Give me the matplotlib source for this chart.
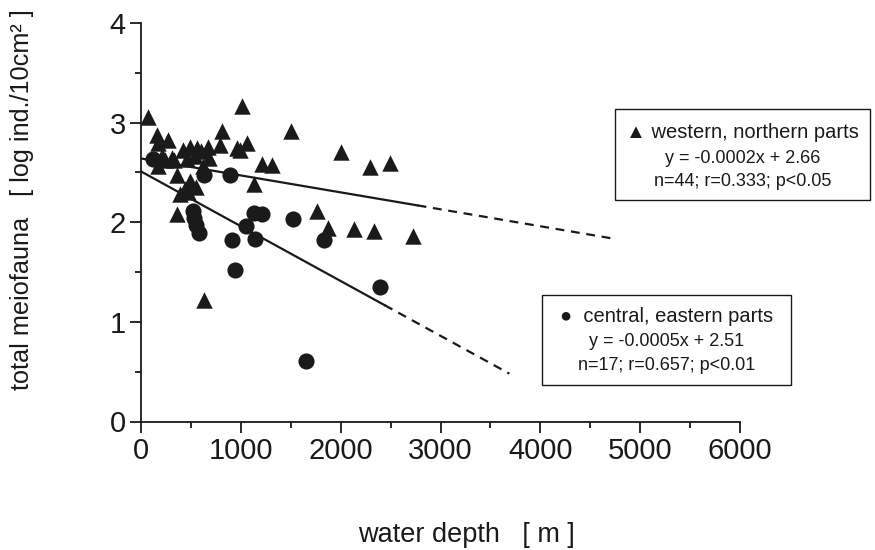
import numpy as np
import matplotlib
matplotlib.use("Agg")
import matplotlib.pyplot as plt
from matplotlib.patches import Rectangle

plt.rcParams["font.family"] = ["Liberation Sans", "DejaVu Sans"]

# western, northern parts (triangles)
west_depth = [73, 1007, 807, 1500, 157, 273, 173, 423, 490, 557, 673, 790, 957,
              1063, 990, 307, 240, 173, 457, 680, 623, 1217, 1317, 357, 490, 550,
              1130, 390, 357, 1763, 630, 2000, 2297, 2497, 1873, 2130, 2330, 2723,
              210, 540, 440, 470, 600, 330]
west_meio = [3.06, 3.17, 2.92, 2.92, 2.88, 2.83, 2.80, 2.73, 2.76, 2.75, 2.76, 2.78,
             2.75, 2.80, 2.73, 2.64, 2.62, 2.56, 2.63, 2.64, 2.56, 2.58, 2.57, 2.47,
             2.41, 2.35, 2.38, 2.28, 2.08, 2.11, 1.22, 2.71, 2.55, 2.59, 1.94, 1.93,
             1.91, 1.86, 2.66, 2.66, 2.33, 2.30, 2.72, 2.62]

# central, eastern parts (circles)
cent_depth = [123, 630, 890, 523, 535, 550, 583, 1130, 1217, 1050, 1523, 913,
              1140, 1830, 940, 1657, 2390]
cent_meio = [2.63, 2.47, 2.47, 2.11, 2.04, 1.97, 1.89, 2.09, 2.08, 1.96, 2.03,
             1.82, 1.83, 1.82, 1.52, 0.61, 1.35]

# regression lines as drawn: (intercept, slope, end of solid part, end of dashed part)
west_fit = (2.64, -0.00017, 2770, 4720)
cent_fit = (2.51, -0.00055, 2440, 3690)

fig = plt.figure(figsize=(8.75, 5.5), dpi=100)
ax = fig.add_axes([141 / 875, 1 - 421.5 / 550, 599 / 875, 398.5 / 550])

ax.scatter(west_depth, west_meio, marker="^", s=140, color="#1a1a1a", linewidths=0, zorder=3)
ax.scatter(cent_depth, cent_meio, marker="o", s=135, color="#1a1a1a", linewidths=0, zorder=3)

for b0, b1, x_solid, x_dash in [west_fit, cent_fit]:
    xs = np.array([0, x_solid])
    ax.plot(xs, b0 + b1 * xs, color="#1a1a1a", lw=1.6, zorder=2)
    xd = np.array([x_solid, x_dash])
    ax.plot(xd, b0 + b1 * xd, color="#1a1a1a", lw=1.6, ls=(0, (4, 3)), zorder=2)

ax.set_xlim(0, 6000)
ax.set_ylim(0, 4)
ax.set_xticks(np.arange(0, 6001, 1000))
ax.set_xticks(np.arange(500, 6000, 1000), minor=True)
ax.set_yticks(np.arange(0, 5, 1))
ax.set_yticks(np.arange(0.5, 4, 1), minor=True)
ax.spines["top"].set_visible(False)
ax.spines["right"].set_visible(False)
for s in ["left", "bottom"]:
    ax.spines[s].set_linewidth(1.3)
    ax.spines[s].set_color("#1a1a1a")
ax.tick_params(which="major", length=8, width=1.3, labelsize=21, colors="#1a1a1a")
ax.tick_params(which="minor", length=4, width=1.3, colors="#1a1a1a")
ax.tick_params(axis="y", pad=3)
ax.tick_params(axis="x", pad=3)

# axis titles
fig.text(466 / 875, 1 - 535 / 550, "water depth   [ m ]", ha="center", va="center",
         fontsize=19.5, color="#1a1a1a")
fig.text(22 / 875, 1 - 200 / 550, "total meiofauna   [ log ind./10cm² ]", ha="center",
         va="center", rotation=90, fontsize=18.2, color="#1a1a1a")

# annotation boxes (pixel positions from the top-left of the figure)
def box(x0, y0, x1, y1, lines):
    fig.patches.append(Rectangle((x0 / 875, 1 - y1 / 550), (x1 - x0) / 875, (y1 - y0) / 550,
                                 transform=fig.transFigure, fill=False, lw=1.0,
                                 edgecolor="#1a1a1a"))
    xc = (x0 + x1) / 2
    for (txt, yy, fs) in lines:
        fig.text(xc / 875, 1 - yy / 550, txt, ha="center", va="center", fontsize=fs,
                 color="#1a1a1a")

box(615, 109, 870, 200, [("\u25B2 western, northern parts", 133, 14.5),
                         ("y = -0.0002x + 2.66", 158, 13),
                         ("n=44; r=0.333; p<0.05", 182, 13)])
box(542, 295, 791, 385, [("\u25CF  central, eastern parts", 316, 14.5),
                         ("y = -0.0005x + 2.51", 342, 13),
                         ("n=17; r=0.657; p<0.01", 365, 13)])

fig.savefig("out.png", dpi=100)
